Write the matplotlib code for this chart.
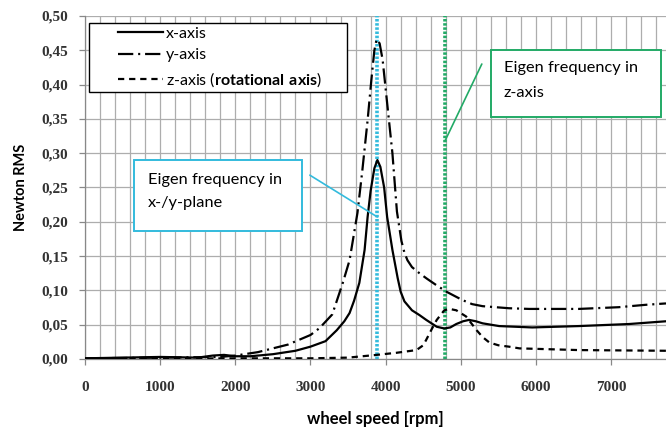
import matplotlib
matplotlib.use("Agg")
import matplotlib.pyplot as plt
from matplotlib.patches import Rectangle
from matplotlib.ticker import MultipleLocator, FuncFormatter
from matplotlib.legend_handler import HandlerLine2D
from matplotlib.lines import Line2D

plt.rcParams['lines.scale_dashes'] = False
plt.rcParams['mathtext.fontset'] = 'custom'
plt.rcParams['mathtext.rm'] = 'Lato'
plt.rcParams['mathtext.bf'] = 'Lato:bold'

# ---- data ----
rpm_x = [0, 500, 1000, 1500, 1700, 1850, 2000, 2200, 2500, 2800, 3000, 3200, 3350,
         3450, 3520, 3580, 3650, 3720, 3760, 3800, 3850, 3890, 3930, 3980, 4020, 4090,
         4160, 4200, 4250, 4350, 4450, 4540, 4680, 4780, 4860, 4940, 5030, 5110, 5200,
         5290, 5510, 5950, 6570, 7240, 7730]
x_vals = [0.001, 0.002, 0.003, 0.002, 0.005, 0.006, 0.004, 0.004, 0.007, 0.012, 0.018,
          0.026, 0.042, 0.055, 0.067, 0.085, 0.111, 0.159, 0.207, 0.245, 0.278, 0.290,
          0.280, 0.250, 0.207, 0.159, 0.118, 0.098, 0.084, 0.071, 0.064, 0.057, 0.047,
          0.0445, 0.046, 0.051, 0.055, 0.057, 0.055, 0.052, 0.048, 0.046, 0.048, 0.051,
          0.055]

rpm_y = [0, 1000, 1800, 2000, 2300, 2700, 3000, 3120, 3290, 3430, 3520, 3625, 3690,
         3760, 3810, 3850, 3880, 3920, 3960, 4020, 4090, 4150, 4210, 4250, 4290, 4350,
         4450, 4550, 4670, 4810, 5020, 5150, 5290, 5640, 5910, 6570, 7100, 7460, 7730]
y_vals = [0.001, 0.002, 0.003, 0.005, 0.010, 0.021, 0.035, 0.045, 0.065, 0.111, 0.144,
          0.213, 0.275, 0.348, 0.407, 0.450, 0.466, 0.460, 0.436, 0.373, 0.300, 0.215,
          0.172, 0.155, 0.144, 0.134, 0.125, 0.117, 0.108, 0.098, 0.086, 0.080, 0.077,
          0.074, 0.073, 0.073, 0.0755, 0.079, 0.081]

rpm_z = [0, 1000, 2000, 3000, 3500, 3880, 4140, 4410, 4500, 4540, 4620, 4680, 4780,
         4850, 4940, 5070, 5140, 5210, 5290, 5380, 5500, 5640, 5780, 6570, 7730]
z_vals = [0.0, 0.0005, 0.001, 0.001, 0.002, 0.006, 0.009, 0.013, 0.020, 0.028, 0.045,
          0.057, 0.071, 0.073, 0.071, 0.062, 0.052, 0.042, 0.032, 0.024, 0.020, 0.018,
          0.0155, 0.013, 0.012]

eigen_xy = 3890
eigen_z = 4790

labels = ["x-axis", "y-axis", r"z-axis ($\mathbf{rotational\ axis}$)"]
box_xy_text = ["Eigen frequency in", "x-/y-plane"]
box_z_text = ["Eigen frequency in", "z-axis"]

# ---- figure ----
fig = plt.figure(figsize=(6.66, 4.28), dpi=100)
ax = fig.add_axes([85/666, 1-359/428, 1-85/666, 343/428])

ax.set_xlim(0, 7730)
ax.set_ylim(0, 0.5)
ax.xaxis.set_major_locator(MultipleLocator(1000))
ax.xaxis.set_minor_locator(MultipleLocator(200))
ax.yaxis.set_major_locator(MultipleLocator(0.05))
ax.grid(True, which='both', axis='x', color='#adadad', lw=0.9)
ax.grid(True, which='major', axis='y', color='#adadad', lw=0.9)
ax.set_axisbelow(True)
ax.tick_params(which='minor', length=0)
ax.tick_params(which='major', length=4, color='#888888', width=0.9)
for s in ['top', 'right']:
    ax.spines[s].set_visible(False)
for s in ['left', 'bottom']:
    ax.spines[s].set_color('#888888')
    ax.spines[s].set_linewidth(0.9)

ax.yaxis.set_major_formatter(FuncFormatter(lambda v, p: f"{v:.2f}".replace('.', ',')))
ax.xaxis.set_major_formatter(FuncFormatter(lambda v, p: f"{int(round(v))}"))
for lab in ax.get_xticklabels() + ax.get_yticklabels():
    lab.set_fontfamily('Liberation Serif')
    lab.set_fontweight('bold')
    lab.set_fontsize(11)
    lab.set_color('#333333')
ax.tick_params(axis='y', pad=8)
ax.tick_params(axis='x', pad=12)

ax.set_ylabel("Newton RMS", family='Lato', weight='bold', size=10.5, labelpad=10)
ax.set_xlabel("wheel speed [rpm]", family='Lato', weight='bold', size=12, labelpad=12)

# eigenfrequency lines
cyan = '#33bbdd'
green = '#22aa66'
ax.axvline(eigen_xy, color=cyan, lw=2.6, dashes=(1.8, 1.2), zorder=2)
ax.axvline(eigen_z, color=green, lw=2.6, dashes=(1.8, 1.2), zorder=2)

# curves
ax.plot(rpm_x, x_vals, color='black', lw=1.6, label=labels[0], zorder=3)
ax.plot(rpm_y, y_vals, color='black', lw=1.6, dashes=(11, 3.5, 1.5, 3.5), label=labels[1], zorder=3)
ax.plot(rpm_z, z_vals, color='black', lw=1.6, dashes=(4.5, 3.5), label=labels[2], zorder=3)

hm = {Line2D: HandlerLine2D(xpad=1.6)}
leg = ax.legend(loc='upper left', bbox_to_anchor=(0.007, 0.78, 0.444, 0.2),
                mode='expand', fancybox=False, handler_map=hm, borderaxespad=0,
                framealpha=1, edgecolor='black', handlelength=4.4, handletextpad=0.19,
                borderpad=0.22, labelspacing=0.48, prop=dict(family='Lato', size=11.5))
leg.get_frame().set_linewidth(1.0)

# annotation boxes
ax.add_patch(Rectangle((0.0843, 0.373), 0.2892, 0.207, transform=ax.transAxes,
                       facecolor='white', edgecolor=cyan, lw=1.4, zorder=5))
ax.text(0.108, 0.522, box_xy_text[0], transform=ax.transAxes, family='Lato', size=11.8,
        va='center', ha='left', zorder=6)
ax.text(0.108, 0.455, box_xy_text[1], transform=ax.transAxes, family='Lato', size=11.8,
        va='center', ha='left', zorder=6)
ax.annotate("", xy=(eigen_xy, 0.207), xycoords='data', xytext=(0.387, 0.536),
            textcoords='axes fraction',
            arrowprops=dict(arrowstyle='-', color=cyan, lw=1.2, shrinkA=0, shrinkB=0), zorder=4)

ax.add_patch(Rectangle((0.699, 0.7055), 0.292, 0.1955, transform=ax.transAxes,
                       facecolor='white', edgecolor=green, lw=1.4, zorder=5))
ax.text(0.721, 0.848, box_z_text[0], transform=ax.transAxes, family='Lato', size=11.8,
        va='center', ha='left', zorder=6)
ax.text(0.721, 0.776, box_z_text[1], transform=ax.transAxes, family='Lato', size=11.8,
        va='center', ha='left', zorder=6)
ax.annotate("", xy=(eigen_z, 0.318), xycoords='data', xytext=(0.683, 0.860),
            textcoords='axes fraction',
            arrowprops=dict(arrowstyle='-', color=green, lw=1.2, shrinkA=0, shrinkB=0), zorder=4)

fig.savefig("out.png", dpi=100)
